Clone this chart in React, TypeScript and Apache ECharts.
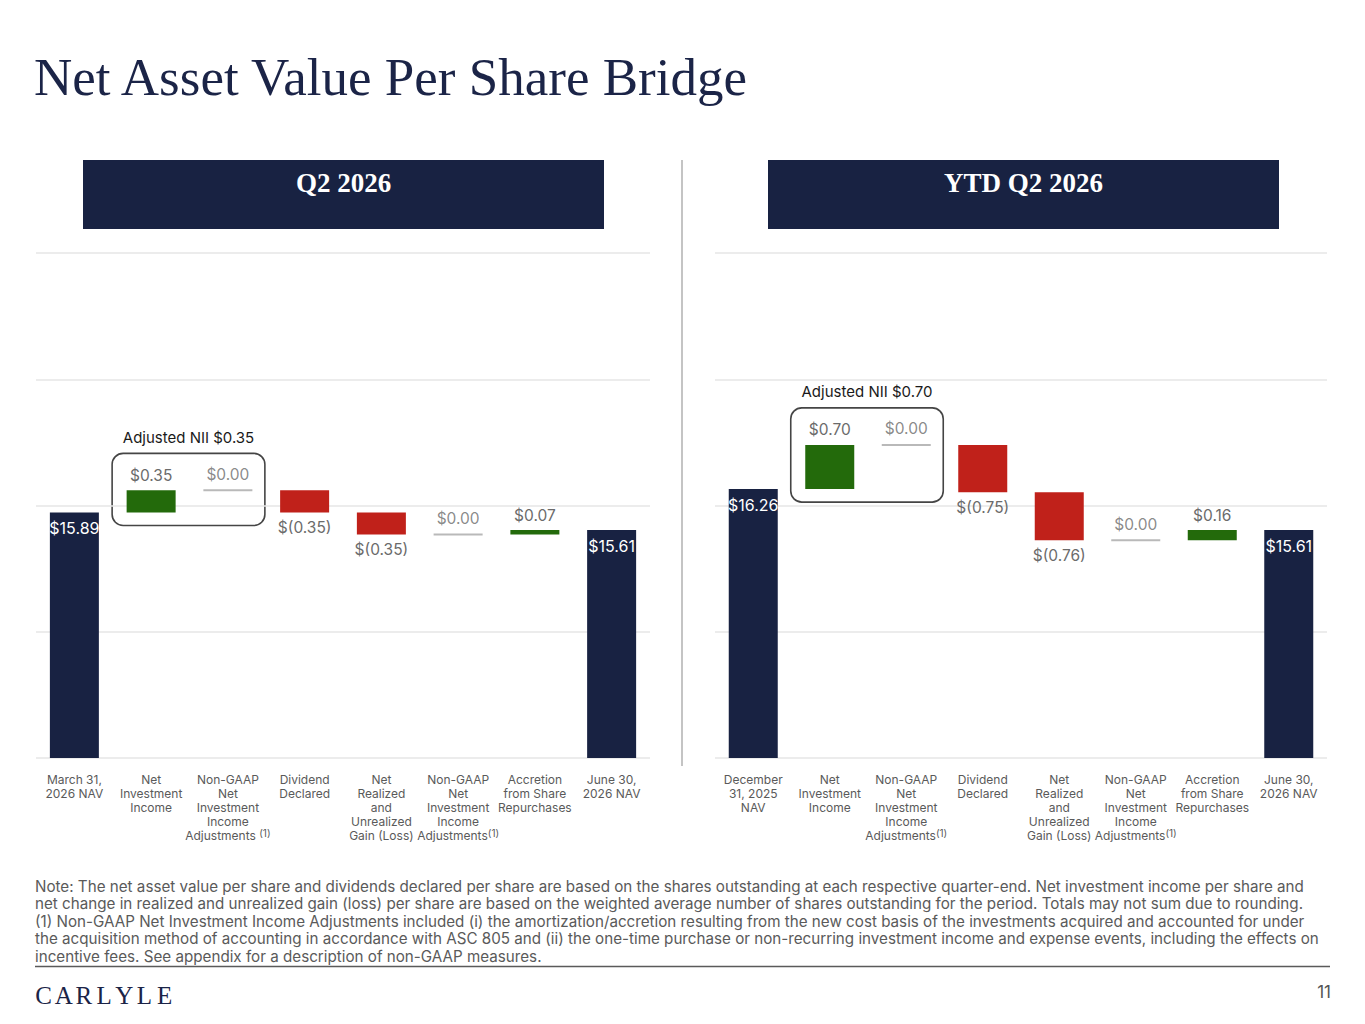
import { useEffect, useRef } from "react";
import * as echarts from "echarts";

const NAVY = "#182242";
const GREEN = "#236a0b";
const RED = "#c0211a";
const ZERO_GRAY = "#a8a8a8";
const LABEL_GRAY = "#6b6b6b";
const AXIS_GRAY = "#5a5a5a";
const SANS = "Inter, 'Noto Sans', sans-serif";
const SERIF = "'Liberation Serif', 'DejaVu Serif', serif";

// Q2 2026 bridge
const q2Categories = [
  "March 31,\n2026 NAV",
  "Net\nInvestment\nIncome",
  "Non-GAAP\nNet\nInvestment\nIncome\nAdjustments (1)",
  "Dividend\nDeclared",
  "Net\nRealized\nand\nUnrealized\nGain (Loss)",
  "Non-GAAP\nNet\nInvestment\nIncome\nAdjustments(1)",
  "Accretion\nfrom Share\nRepurchases",
  "June 30,\n2026 NAV",
];
const q2Start = 15.89;
const q2Deltas = [0.35, 0.0, -0.35, -0.35, 0.0, 0.07];
const q2End = 15.61;

// YTD Q2 2026 bridge
const ytdCategories = [
  "December\n31, 2025\nNAV",
  "Net\nInvestment\nIncome",
  "Non-GAAP\nNet\nInvestment\nIncome\nAdjustments(1)",
  "Dividend\nDeclared",
  "Net\nRealized\nand\nUnrealized\nGain (Loss)",
  "Non-GAAP\nNet\nInvestment\nIncome\nAdjustments(1)",
  "Accretion\nfrom Share\nRepurchases",
  "June 30,\n2026 NAV",
];
const ytdStart = 16.26;
const ytdDeltas = [0.7, 0.0, -0.75, -0.76, 0.0, 0.16];
const ytdEnd = 15.61;

// value axis (hidden labels, gridlines only)
const yMin = 12;
const yMax = 20;
const yInterval = 2;

const panelTitles = ["Q2 2026", "YTD Q2 2026"];

const footnoteLines = [
  "Note: The net asset value per share and dividends declared per share are based on the shares outstanding at each respective quarter-end. Net investment income per share and",
  "net change in realized and unrealized gain (loss) per share are based on the weighted average number of shares outstanding for the period. Totals may not sum due to rounding.",
  "(1) Non-GAAP Net Investment Income Adjustments included (i) the amortization/accretion resulting from the new cost basis of the investments acquired and accounted for under",
  "the acquisition method of accounting in accordance with ASC 805 and (ii) the one-time purchase or non-recurring investment income and expense events, including the effects on",
  "incentive fees. See appendix for a description of non-GAAP measures.",
];

type Cell = number | "-";

function buildWaterfall(start: number, deltas: number[], end: number) {
  const base: Cell[] = ["-"];
  const up: Cell[] = ["-"];
  const down: Cell[] = ["-"];
  const zero: Cell[] = ["-"];
  const total: Cell[] = [start];
  let level = start;
  deltas.forEach((d) => {
    if (d > 0) {
      base.push(level);
      up.push(d);
      down.push("-");
      zero.push("-");
    } else if (d < 0) {
      base.push(+(level + d).toFixed(2));
      up.push("-");
      down.push(-d);
      zero.push("-");
    } else {
      base.push("-");
      up.push("-");
      down.push("-");
      zero.push(level);
    }
    total.push("-");
    level = +(level + d).toFixed(2);
  });
  base.push("-");
  up.push("-");
  down.push("-");
  zero.push("-");
  total.push(end);
  return { base, up, down, zero, total };
}

const money = (v: number) => `$${v.toFixed(2)}`;

function panelSeries(idx: number, start: number, deltas: number[], end: number): any[] {
  const w = buildWaterfall(start, deltas, end);
  const common = {
    type: "bar",
    stack: "bridge" + idx,
    xAxisIndex: idx,
    yAxisIndex: idx,
    barWidth: 49,
  };
  const valueLabel = {
    show: true,
    fontFamily: SANS,
    fontSize: 15.5,
    color: LABEL_GRAY,
    distance: 7,
  };
  return [
    { ...common, name: "base", data: w.base, itemStyle: { color: "transparent" }, silent: true },
    {
      ...common,
      name: "increase",
      data: w.up,
      itemStyle: { color: GREEN },
      label: { ...valueLabel, position: "top", formatter: (p: any) => money(p.value) },
    },
    {
      ...common,
      name: "decrease",
      data: w.down,
      itemStyle: { color: RED },
      label: { ...valueLabel, position: "bottom", formatter: (p: any) => `$(${p.value.toFixed(2)})` },
    },
    {
      ...common,
      name: "total",
      data: w.total,
      itemStyle: { color: NAVY },
      label: {
        show: true,
        position: "insideTop",
        distance: 8,
        fontFamily: SANS,
        fontSize: 16,
        color: "#ffffff",
        formatter: (p: any) => money(p.value),
      },
    },
    {
      type: "scatter",
      name: "no change",
      xAxisIndex: idx,
      yAxisIndex: idx,
      data: w.zero,
      symbol: "rect",
      symbolSize: [49, 2],
      itemStyle: { color: ZERO_GRAY },
      label: { ...valueLabel, position: "top", distance: 7, formatter: () => money(0) },
    },
  ];
}

function categoryAxis(idx: number, data: string[]) {
  return {
    type: "category",
    gridIndex: idx,
    data,
    axisLine: { show: false },
    axisTick: { show: false },
    axisLabel: {
      interval: 0,
      margin: 14,
      fontFamily: SANS,
      fontSize: 12,
      lineHeight: 14,
      color: AXIS_GRAY,
      verticalAlign: "top",
      formatter: (v: string) => v.replace("(1)", "{sup|(1)}"),
      rich: {
        sup: { fontFamily: SANS, fontSize: 10, lineHeight: 10, verticalAlign: "top", color: AXIS_GRAY },
      },
    },
  };
}

function valueAxis(idx: number) {
  return {
    type: "value",
    gridIndex: idx,
    min: yMin,
    max: yMax,
    interval: yInterval,
    axisLabel: { show: false },
    axisLine: { show: false },
    axisTick: { show: false },
    splitLine: { lineStyle: { color: "#e6e6e6", width: 1.5 } },
  };
}

function staticGraphics(): any[] {
  const g: any[] = [
    {
      id: "title",
      type: "text",
      left: 34,
      top: 50,
      style: { text: "Net Asset Value Per Share Bridge", font: `53px ${SERIF}`, fill: "#1b2447" },
    },
    { id: "hdr0", type: "rect", shape: { x: 83, y: 160, width: 521, height: 69 }, style: { fill: NAVY } },
    { id: "hdr1", type: "rect", shape: { x: 768, y: 160, width: 511, height: 69 }, style: { fill: NAVY } },
    {
      id: "hdrText0",
      type: "text",
      x: 343.5,
      y: 183,
      style: { text: panelTitles[0], font: `bold 27px ${SERIF}`, fill: "#ffffff", align: "center", verticalAlign: "middle" },
    },
    {
      id: "hdrText1",
      type: "text",
      x: 1023.5,
      y: 183,
      style: { text: panelTitles[1], font: `bold 27px ${SERIF}`, fill: "#ffffff", align: "center", verticalAlign: "middle" },
    },
    {
      id: "divider",
      type: "line",
      shape: { x1: 682, y1: 160, x2: 682, y2: 766 },
      style: { stroke: "#c4c4c4", lineWidth: 2 },
    },
    {
      id: "rule",
      type: "line",
      shape: { x1: 35, y1: 966.5, x2: 1330, y2: 966.5 },
      style: { stroke: "#5a5a5a", lineWidth: 1.5 },
    },
    {
      id: "pageNo",
      type: "text",
      x: 1331,
      y: 992,
      style: { text: "11", font: `17px ${SANS}`, fill: "#555555", align: "right", verticalAlign: "middle" },
    },
  ];
  footnoteLines.forEach((line, i) => {
    g.push({
      id: "fn" + i,
      type: "text",
      x: 35,
      y: 886 + i * 17.5,
      style: { text: line, font: `15.2px ${SANS}`, fill: "#5a5a5a", verticalAlign: "middle" },
    });
  });
  "CARLYLE".split("").forEach((ch, i) => {
    g.push({
      id: "logo" + i,
      type: "text",
      x: 43.5 + i * 20.2,
      y: 995,
      style: { text: ch, font: `25px ${SERIF}`, fill: "#1b2447", align: "center", verticalAlign: "middle" },
    });
  });
  return g;
}

export default function App() {
  const chartRef = useRef<HTMLDivElement>(null);

  useEffect(() => {
    document.body.style.margin = "0";
    if (!chartRef.current) return;
    const chart = echarts.init(chartRef.current, undefined, { renderer: "svg" });

    chart.setOption({
      animation: false,
      backgroundColor: "#ffffff",
      grid: [
        { left: 36, width: 614, top: 253, height: 505 },
        { left: 715, width: 612, top: 253, height: 505 },
      ],
      xAxis: [categoryAxis(0, q2Categories), categoryAxis(1, ytdCategories)],
      yAxis: [valueAxis(0), valueAxis(1)],
      series: [
        ...panelSeries(0, q2Start, q2Deltas, q2End),
        ...panelSeries(1, ytdStart, ytdDeltas, ytdEnd),
      ],
      graphic: staticGraphics(),
    });

    // "Adjusted NII" callout boxes around the NII and Non-GAAP adjustment columns
    const callouts: any[] = [];
    [
      { idx: 0, start: q2Start, deltas: q2Deltas },
      { idx: 1, start: ytdStart, deltas: ytdDeltas },
    ].forEach(({ idx, start, deltas }) => {
      const adjusted = deltas[0] + deltas[1];
      const top = start + Math.max(deltas[0], 0) + Math.max(deltas[1], 0);
      const [c1, yStart] = chart.convertToPixel({ gridIndex: idx }, [1, start]) as number[];
      const [c2, yTop] = chart.convertToPixel({ gridIndex: idx }, [2, top]) as number[];
      const x = c1 - 39;
      const y = yTop - 37;
      const width = c2 + 37 - x;
      const height = yStart + 13 - y;
      callouts.push({
        id: "box" + idx,
        type: "rect",
        shape: { x, y, width, height, r: 11 },
        style: { fill: "none", stroke: "#454545", lineWidth: 1.6 },
      });
      callouts.push({
        id: "boxLabel" + idx,
        type: "text",
        x: x + width / 2,
        y: y - 16,
        style: {
          text: `Adjusted NII ${money(adjusted)}`,
          font: `15px ${SANS}`,
          fill: "#1a1a1a",
          align: "center",
          verticalAlign: "middle",
        },
      });
    });
    chart.setOption({ graphic: callouts });

    return () => chart.dispose();
  }, []);

  return <div ref={chartRef} style={{ width: 1365, height: 1024 }} />;
}
